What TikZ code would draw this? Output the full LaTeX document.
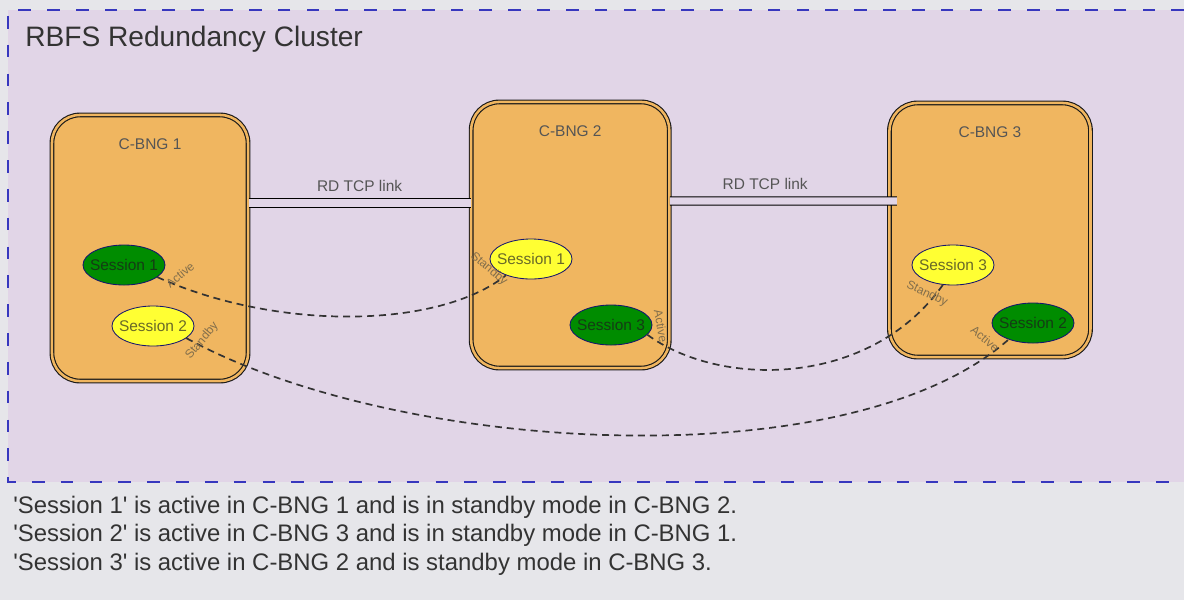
\documentclass[tikz,border=0pt]{standalone}
\usepackage{fontspec}
\setmainfont{Liberation Sans}
\usetikzlibrary{shapes.geometric, positioning}
\definecolor{pagegray}{RGB}{230, 230, 234}
\definecolor{clusterpurple}{RGB}{225, 213, 231}
\definecolor{clusterblue}{RGB}{55, 55, 190}
\definecolor{bngorange}{RGB}{240, 182, 96}
\definecolor{sessgreen}{RGB}{0, 140, 0}
\definecolor{sessyellow}{RGB}{255, 255, 51}
\definecolor{sessnavy}{RGB}{20, 20, 110}
\definecolor{greentext}{RGB}{20, 60, 20}
\definecolor{yellowtext}{RGB}{105, 105, 40}
\definecolor{textgray}{RGB}{51, 51, 51}
\definecolor{labelgray}{RGB}{85, 85, 85}
\definecolor{rolebrown}{RGB}{130, 110, 75}

\begin{document}
\begin{tikzpicture}[
                    x=0.025cm, y=-0.025cm,
                    node distance=5.5cm,
                    bng/.style={draw=black!90, line width=0.8pt, double=bngorange, double distance=1.8pt, fill=bngorange, rounded corners=0.7cm},
                    bngname/.style={font=\fontsize{11}{13}\selectfont, text=labelgray},
                    sess/.style={ellipse, draw=sessnavy, line width=0.6pt, minimum width=2.05cm, minimum height=1cm, inner sep=0pt},
                    active/.style={sess, fill=sessgreen, label={[font=\fontsize{11}{13}\selectfont, text=greentext]center:#1}},
                    standby/.style={sess, fill=sessyellow, label={[font=\fontsize{11}{13}\selectfont, text=yellowtext]center:#1}},
                    link/.style={draw=black, line width=0.8pt, double=clusterpurple, double distance=5pt},
                    linkname/.style={font=\fontsize{11}{13}\selectfont, text=labelgray},
                    sync/.style={draw=textgray, line width=1.2pt, dash pattern=on 5pt off 3.5pt},
                    role/.style={font=\fontsize{8.5}{10}\selectfont, text=rolebrown, inner sep=1pt}
                ]
                \useasboundingbox (0,0) rectangle (1184,600);
                \fill[pagegray] (0,0) rectangle (1184,600);

                % --- Cluster ---
                \fill[clusterpurple] (8,10) rectangle (1184,482);
                \draw[clusterblue, line width=1.4pt, dash pattern=on 9pt off 11.5pt] (1184,10) -- (8,10) -- (8,482) -- (1184,482);
                \node[anchor=base west, inner sep=0pt, font=\fontsize{20}{24}\selectfont, text=textgray] (title) at (25,46) {RBFS Redundancy Cluster};

                % --- C-BNG boxes ---
                \node[bng, minimum width=4.9cm, minimum height=6.65cm] (bng1) at (150,248) {};
                \node[bng, minimum width=4.95cm, minimum height=6.65cm, right=5.55cm of bng1, yshift=0.325cm] (bng2) {};
                \node[bng, minimum width=5.025cm, minimum height=6.35cm, right=5.475cm of bng2, yshift=0.125cm] (bng3) {};

                \node[bngname, below=0.48cm of bng1.north] (name1) {C-BNG 1};
                \node[bngname, below=0.48cm of bng2.north] (name2) {C-BNG 2};
                \node[bngname, below=0.48cm of bng3.north] (name3) {C-BNG 3};

                \draw[link] ([yshift=1.125cm]bng1.east) -- node[linkname, above=4pt] (rd1) {RD TCP link} ([yshift=0.8cm]bng2.west);
                \draw[link] ([yshift=0.85cm]bng2.east) -- node[linkname, above=4pt, pos=0.42] (rd2) {RD TCP link} ([xshift=0.2cm, yshift=0.725cm]bng3.west);

                % --- Sessions ---
                \node[active=Session 1] (s11) at (124,265) {};
                \node[standby=Session 2] (s21) at (153,326) {};
                \node[standby=Session 1] (s12) at (531,259) {};
                \node[active=Session 3] (s32) at (611,325) {};
                \node[standby=Session 3] (s33) at (953,265) {};
                \node[active=Session 2] (s23) at (1033,323) {};

                \draw[sync] (s11.-20) .. controls (280,332) and (440,328) .. (s12.-147);
                \draw[sync] (s32.-15) .. controls (720,388) and (870,388) .. (s33.-117);
                \draw[sync] (s21.-20) .. controls (400,455) and (850,480) .. (s23.-146);

                \node[role, rotate=40] (r11) at (180,275) {Active};
                \node[role, rotate=-40] (r12) at (489,269) {Standby};
                \node[role, rotate=-80] (r32) at (661,326) {Active};
                \node[role, rotate=-25] (r33) at (927,294) {Standby};
                \node[role, rotate=50] (r21) at (202,341) {Standby};
                \node[role, rotate=-40] (r23) at (985,339) {Active};

                % --- Notes ---
                \node[anchor=north west, inner sep=0pt, align=left, font=\fontsize{17}{20.3}\selectfont, text=textgray] (notes) at (13,495.5) {\textquotesingle Session 1\textquotesingle{} is active in C-BNG 1 and is in standby mode in C-BNG 2.\\\textquotesingle Session 2\textquotesingle{} is active in C-BNG 3 and is in standby mode in C-BNG 1.\\\textquotesingle Session 3\textquotesingle{} is active in C-BNG 2 and is standby mode in C-BNG 3.};

                \end{tikzpicture}
\end{document}
